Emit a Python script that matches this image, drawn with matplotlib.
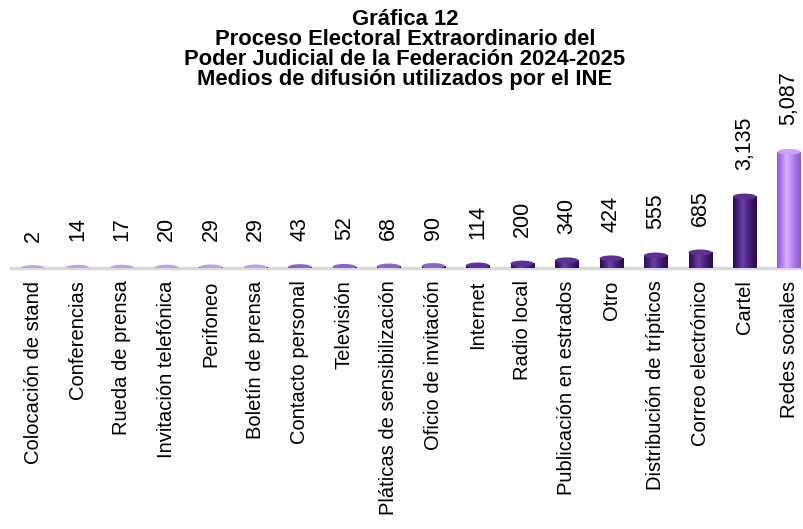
import matplotlib
matplotlib.use("Agg")
import matplotlib.pyplot as plt
import numpy as np
from matplotlib.patches import Ellipse, Rectangle
from matplotlib.colors import LinearSegmentedColormap

plt.rcParams['font.family'] = ['Liberation Sans', 'DejaVu Sans']

categories = ["Colocación de stand", "Conferencias", "Rueda de prensa",
              "Invitación telefónica", "Perifoneo", "Boletín de prensa",
              "Contacto personal", "Televisión", "Pláticas de sensibilización",
              "Oficio de invitación", "Internet", "Radio local",
              "Publicación en estrados", "Otro", "Distribución de trípticos",
              "Correo electrónico", "Cartel", "Redes sociales"]
values = [2, 14, 17, 20, 29, 29, 43, 52, 68, 90, 114, 200, 340, 424, 555, 685, 3135, 5087]
title_lines = ["Gráfica 12",
               "Proceso Electoral Extraordinario del",
               "Poder Judicial de la Federación 2024-2025",
               "Medios de difusión utilizados por el INE"]

dark_cmap = LinearSegmentedColormap.from_list(
    "dark", ["#2a0c4f", "#4a1f7e", "#6a43a3", "#53278a", "#3a1566", "#2a0c4f"])
light_cmap = LinearSegmentedColormap.from_list(
    "light", ["#9058d8", "#b27ef0", "#d4b2ff", "#c08ef8", "#a46ae6", "#9058d8"])

fig = plt.figure(figsize=(8.04, 5.29), dpi=100)
ax = fig.add_axes([10.8 / 804, (529 - 268) / 529, 793.2 / 804, 137 / 529])
ymax = 6000
ax.set_xlim(-0.5, -0.5 + 793.2 / 44.47)
ax.set_ylim(0, ymax)

w = 0.52
cap_h = 250
grad = np.linspace(0, 1, 64).reshape(1, -1)
x = np.arange(len(categories))
for i, v in enumerate(values):
    last = i == len(values) - 1
    cmap = light_cmap if last else dark_cmap
    top_col = "#c9a0fa" if last else "#5c3290"
    im = ax.imshow(grad, cmap=cmap, aspect='auto',
                   extent=[x[i] - w / 2, x[i] + w / 2, 0, v], zorder=2)
    rect = Rectangle((x[i] - w / 2, 0), w, v, transform=ax.transData)
    im.set_clip_path(rect)
    cap = Ellipse((x[i], v), w, cap_h, facecolor=top_col, edgecolor='none', zorder=3)
    ax.add_patch(cap)
    if v < 100:
        cap.set_facecolor("#b9a6d6" if v < 40 else "#8a68b8")
    ax.annotate(f"{v:,}", (x[i], v), xytext=(0, 19), textcoords='offset points',
                rotation=90, ha='center', va='bottom', fontsize=15.5, color='black')

ax.set_xticks(x)
ax.set_xticklabels(categories, rotation=90, fontsize=14.5, va='top', ha='center')
ax.tick_params(axis='x', length=0, pad=9)
ax.set_yticks([])
for s in ['top', 'right', 'left']:
    ax.spines[s].set_visible(False)
ax.spines['bottom'].set_color('#d9d9d9')
ax.spines['bottom'].set_linewidth(2.5)
ax.spines['bottom'].set_zorder(1)

fig.text(405 / 804, 1 - 9 / 529, "\n".join(title_lines), ha='center', va='top',
         fontsize=15.8, fontweight='bold', linespacing=0.94)

fig.savefig("out.png", dpi=100)
